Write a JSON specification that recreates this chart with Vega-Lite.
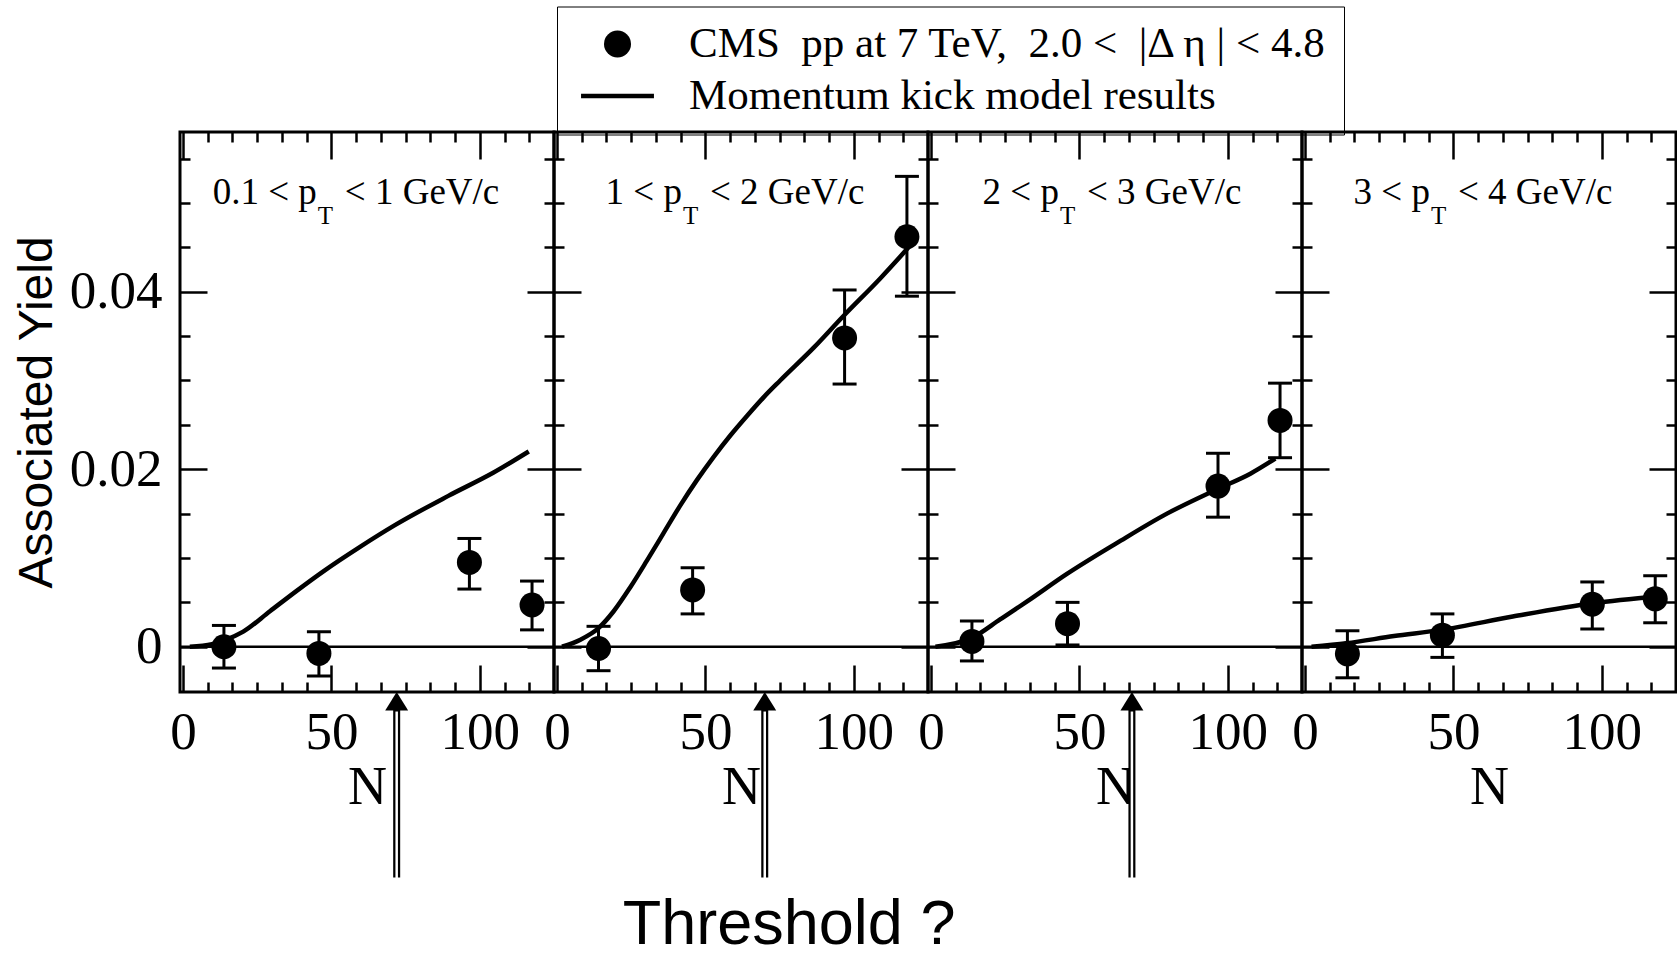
{
  "$schema": "https://vega.github.io/schema/vega-lite/v6.json",
  "background": "white",
  "autosize": {"type": "pad"},
  "padding": {"left": 11, "top": 6, "right": 0, "bottom": 0},
  "datasets": {
    "zero": [{"y": 0}],
    "points": [
      {"panel": 1, "N": 13.8, "y": 0.0, "lo": -0.0024, "hi": 0.0024},
      {"panel": 1, "N": 45.8, "y": -0.00075, "lo": -0.0033, "hi": 0.0017},
      {"panel": 1, "N": 96.5, "y": 0.0095, "lo": 0.0065, "hi": 0.0122},
      {"panel": 1, "N": 117.6, "y": 0.0047, "lo": 0.0019, "hi": 0.0074},
      {"panel": 2, "N": 14.0, "y": -0.0002, "lo": -0.0027, "hi": 0.0023},
      {"panel": 2, "N": 45.7, "y": 0.0064, "lo": 0.0037, "hi": 0.0089},
      {"panel": 2, "N": 96.9, "y": 0.0348, "lo": 0.0296, "hi": 0.0402},
      {"panel": 2, "N": 117.9, "y": 0.0462, "lo": 0.0395, "hi": 0.053},
      {"panel": 3, "N": 13.8, "y": 0.0006, "lo": -0.0016, "hi": 0.0029},
      {"panel": 3, "N": 46.0, "y": 0.0026, "lo": 0.0002, "hi": 0.005},
      {"panel": 3, "N": 96.7, "y": 0.0181, "lo": 0.0146, "hi": 0.0218},
      {"panel": 3, "N": 117.6, "y": 0.0255, "lo": 0.0213, "hi": 0.0297},
      {"panel": 4, "N": 14.3, "y": -0.0008, "lo": -0.0035, "hi": 0.0018},
      {"panel": 4, "N": 46.3, "y": 0.0013, "lo": -0.0012, "hi": 0.0037},
      {"panel": 4, "N": 96.8, "y": 0.0048, "lo": 0.002, "hi": 0.0073},
      {"panel": 4, "N": 118.0, "y": 0.0054, "lo": 0.0027, "hi": 0.008}
    ],
    "model": [
      {"panel": 1, "N": 2.3, "y": 0},
      {"panel": 1, "N": 9.8, "y": 0.0003},
      {"panel": 1, "N": 13.8, "y": 0.0007},
      {"panel": 1, "N": 20.3, "y": 0.0017},
      {"panel": 1, "N": 29.3, "y": 0.004},
      {"panel": 1, "N": 38.3, "y": 0.0063},
      {"panel": 1, "N": 47.3, "y": 0.0085},
      {"panel": 1, "N": 59.4, "y": 0.0112},
      {"panel": 1, "N": 71.4, "y": 0.0137},
      {"panel": 1, "N": 89.4, "y": 0.017},
      {"panel": 1, "N": 104.5, "y": 0.0196},
      {"panel": 1, "N": 116.5, "y": 0.022},
      {"panel": 2, "N": 1.7, "y": 0},
      {"panel": 2, "N": 7.9, "y": 0.0008},
      {"panel": 2, "N": 14.0, "y": 0.0021},
      {"panel": 2, "N": 19.1, "y": 0.004},
      {"panel": 2, "N": 24.7, "y": 0.0067},
      {"panel": 2, "N": 30.3, "y": 0.0097},
      {"panel": 2, "N": 35.9, "y": 0.0128},
      {"panel": 2, "N": 41.5, "y": 0.0159},
      {"panel": 2, "N": 47.2, "y": 0.0188},
      {"panel": 2, "N": 52.8, "y": 0.0214},
      {"panel": 2, "N": 58.4, "y": 0.0238},
      {"panel": 2, "N": 64.0, "y": 0.026},
      {"panel": 2, "N": 69.6, "y": 0.0281},
      {"panel": 2, "N": 75.2, "y": 0.03},
      {"panel": 2, "N": 86.5, "y": 0.0337},
      {"panel": 2, "N": 96.6, "y": 0.0373},
      {"panel": 2, "N": 108.9, "y": 0.0415},
      {"panel": 2, "N": 119.0, "y": 0.0452},
      {"panel": 3, "N": 1.5, "y": 0},
      {"panel": 3, "N": 13.8, "y": 0.001},
      {"panel": 3, "N": 23.4, "y": 0.0031},
      {"panel": 3, "N": 32.4, "y": 0.0051},
      {"panel": 3, "N": 45.8, "y": 0.0082},
      {"panel": 3, "N": 62.7, "y": 0.0117},
      {"panel": 3, "N": 79.5, "y": 0.015},
      {"panel": 3, "N": 96.7, "y": 0.0178},
      {"panel": 3, "N": 107.6, "y": 0.0195},
      {"panel": 3, "N": 116.0, "y": 0.0212},
      {"panel": 4, "N": 2.2, "y": 0},
      {"panel": 4, "N": 14.0, "y": 0.0004},
      {"panel": 4, "N": 30.0, "y": 0.0012},
      {"panel": 4, "N": 46.0, "y": 0.0019},
      {"panel": 4, "N": 70.0, "y": 0.0034},
      {"panel": 4, "N": 97.0, "y": 0.0049},
      {"panel": 4, "N": 119.2, "y": 0.0057}
    ],
    "arrows": [
      {"panel": 1, "N": 72.0},
      {"panel": 2, "N": 70.0},
      {"panel": 3, "N": 67.7}
    ],
    "labels": [
      {"panel": 1, "pre": "0.1 < p", "sub": "T", "post": "< 1 GeV/c"},
      {"panel": 2, "pre": "1 < p", "sub": "T", "post": "< 2 GeV/c"},
      {"panel": 3, "pre": "2 < p", "sub": "T", "post": "< 3 GeV/c"},
      {"panel": 4, "pre": "3 < p", "sub": "T", "post": "< 4 GeV/c"}
    ],
    "notes": [{"text": "Threshold ?"}]
  },
  "hconcat": [
    {
      "width": 374, "height": 560,
      "resolve": {"axis": {"x": "independent", "y": "independent"}},
      "layer": [
        {"data": {"name": "zero"}, "mark": {"type": "rule", "color": "black", "strokeWidth": 2.5},
         "encoding": {"y": {"field": "y", "type": "quantitative", "scale": {"domain": [-0.0051, 0.058], "nice": false, "zero": false}, "axis": null}}},
        {"data": {"name": "model"}, "transform": [{"filter": "datum.panel == 1"}],
         "mark": {"type": "line", "color": "black", "strokeWidth": 4.5, "interpolate": "monotone"},
         "encoding": {
           "x": {"field": "N", "type": "quantitative", "scale": {"domain": [-1, 125], "nice": false, "zero": false},
                 "axis": {"orient": "bottom", "values": [0, 50, 100], "tickSize": -27, "labelPadding": 41, "labelFontSize": 53, "labelFlush": false, "labelOverlap": false, "format": "d", "title": "N", "titleFontSize": 54, "titlePadding": 1}},
           "y": {"field": "y", "type": "quantitative", "scale": {"domain": [-0.0051, 0.058], "nice": false, "zero": false},
                 "axis": {"orient": "left", "values": [0, 0.02, 0.04], "tickSize": -27, "labelPadding": 45, "labelFontSize": 53, "labelFlush": false, "labelOverlap": false, "labelExpr": "datum.value == 0 ? '0' : format(datum.value, '.2f')", "title": "Associated Yield", "titleFont": "Liberation Sans", "titleFontSize": 48, "titlePadding": 8}}
         }},
        {"data": {"name": "points"}, "transform": [{"filter": "datum.panel == 1"}],
         "mark": {"type": "rule", "color": "black", "strokeWidth": 3},
         "encoding": {
           "x": {"field": "N", "type": "quantitative", "axis": {"orient": "bottom", "values": [8.3333, 16.6667, 25, 33.3333, 41.6667, 58.3333, 66.6667, 75, 83.3333, 91.6667, 108.3333, 116.6667], "tickSize": -10, "labels": false, "title": null}},
           "y": {"field": "lo", "type": "quantitative", "axis": {"orient": "left", "values": [0.005, 0.01, 0.015, 0.025, 0.03, 0.035, 0.045, 0.05, 0.055], "tickSize": -10, "labels": false, "title": null}},
           "y2": {"field": "hi"}
         }},
        {"data": {"name": "points"}, "transform": [{"filter": "datum.panel == 1"}],
         "mark": {"type": "tick", "orient": "horizontal", "size": 24, "thickness": 3, "color": "black", "opacity": 1},
         "encoding": {
           "x": {"field": "N", "type": "quantitative", "axis": {"orient": "top", "values": [0, 50, 100], "tickSize": -27, "labels": false, "title": null}},
           "y": {"field": "lo", "type": "quantitative", "axis": {"orient": "right", "values": [0, 0.02, 0.04], "tickSize": -27, "labels": false, "title": null}}
         }},
        {"data": {"name": "points"}, "transform": [{"filter": "datum.panel == 1"}],
         "mark": {"type": "tick", "orient": "horizontal", "size": 24, "thickness": 3, "color": "black", "opacity": 1},
         "encoding": {
           "x": {"field": "N", "type": "quantitative", "axis": {"orient": "top", "values": [8.3333, 16.6667, 25, 33.3333, 41.6667, 58.3333, 66.6667, 75, 83.3333, 91.6667, 108.3333, 116.6667], "tickSize": -10, "labels": false, "title": null}},
           "y": {"field": "hi", "type": "quantitative", "axis": {"orient": "right", "values": [0.005, 0.01, 0.015, 0.025, 0.03, 0.035, 0.045, 0.05, 0.055], "tickSize": -10, "labels": false, "title": null}}
         }},
        {"data": {"name": "points"}, "transform": [{"filter": "datum.panel == 1"}],
         "mark": {"type": "point", "filled": true, "size": 625, "color": "black", "opacity": 1, "strokeWidth": 0},
         "encoding": {
           "x": {"field": "N", "type": "quantitative", "axis": null},
           "y": {"field": "y", "type": "quantitative", "axis": null},
           "shape": {"datum": "CMS\u00a0 pp at 7 TeV,\u00a0 2.0 <\u00a0 |Δ η | < 4.8", "type": "nominal",
             "scale": {"domain": ["CMS\u00a0 pp at 7 TeV,\u00a0 2.0 <\u00a0 |Δ η | < 4.8", "Momentum kick model results"], "range": ["circle", "M-2.7,-0.17H2.7V0.17H-2.7Z"]},
             "legend": {"title": null, "orient": "none", "legendX": 377, "legendY": -125.5, "direction": "vertical",
               "labelFont": "Liberation Serif", "labelFontSize": 43, "labelColor": "black", "labelLimit": 0, "labelOffset": 50,
               "symbolSize": 729, "symbolStrokeWidth": 0, "symbolOffset": 23, "padding": 16, "rowPadding": 8, "strokeColor": "black",
               "encode": {"legend": {"strokeWidth": {"value": 3}},
                          "symbols": {"fill": {"value": "black"}, "stroke": {"value": "black"}, "strokeWidth": {"value": 0}, "opacity": {"value": 1}, "size": {"value": 729}}}}}
         }},
        {"data": {"name": "arrows"}, "transform": [{"filter": "datum.panel == 1"}],
         "mark": {"type": "rule", "color": "black", "strokeWidth": 7, "strokeCap": "butt"},
         "encoding": {"x": {"field": "N", "type": "quantitative", "axis": null}, "y": {"datum": -0.006, "type": "quantitative", "axis": null}, "y2": {"datum": -0.026}}},
        {"data": {"name": "arrows"}, "transform": [{"filter": "datum.panel == 1"}],
         "mark": {"type": "rule", "color": "white", "strokeWidth": 2.5, "strokeCap": "butt"},
         "encoding": {"x": {"field": "N", "type": "quantitative", "axis": null}, "y": {"datum": -0.0073, "type": "quantitative", "axis": null}, "y2": {"datum": -0.0262}}},
        {"data": {"name": "arrows"}, "transform": [{"filter": "datum.panel == 1"}],
         "mark": {"type": "point", "shape": "M0,0L-0.62,1L0.62,1Z", "filled": true, "size": 1369, "color": "black", "opacity": 1, "strokeWidth": 0},
         "encoding": {"x": {"field": "N", "type": "quantitative", "axis": null}, "y": {"datum": -0.0051, "type": "quantitative", "axis": null}}},
        {"data": {"name": "labels"}, "transform": [{"filter": "datum.panel == 1"}],
         "mark": {"type": "text", "align": "right", "baseline": "alphabetic", "font": "Liberation Serif", "fontSize": 37, "color": "black"},
         "encoding": {"x": {"datum": 45.1, "type": "quantitative", "axis": null}, "y": {"datum": 0.04985, "type": "quantitative", "axis": null}, "text": {"field": "pre"}}},
        {"data": {"name": "labels"}, "transform": [{"filter": "datum.panel == 1"}],
         "mark": {"type": "text", "align": "left", "baseline": "alphabetic", "font": "Liberation Serif", "fontSize": 25, "color": "black", "dx": 1, "dy": 20},
         "encoding": {"x": {"datum": 45.1, "type": "quantitative", "axis": null}, "y": {"datum": 0.04985, "type": "quantitative", "axis": null}, "text": {"field": "sub"}}},
        {"data": {"name": "labels"}, "transform": [{"filter": "datum.panel == 1"}],
         "mark": {"type": "text", "align": "left", "baseline": "alphabetic", "font": "Liberation Serif", "fontSize": 37, "color": "black", "dx": 28},
         "encoding": {"x": {"datum": 45.1, "type": "quantitative", "axis": null}, "y": {"datum": 0.04985, "type": "quantitative", "axis": null}, "text": {"field": "post"}}}
      ]
    },
    {
      "width": 374, "height": 560,
      "resolve": {"axis": {"x": "independent", "y": "independent"}},
      "layer": [
        {"data": {"name": "zero"}, "mark": {"type": "rule", "color": "black", "strokeWidth": 2.5},
         "encoding": {"y": {"field": "y", "type": "quantitative", "scale": {"domain": [-0.0051, 0.058], "nice": false, "zero": false}, "axis": null}}},
        {"data": {"name": "model"}, "transform": [{"filter": "datum.panel == 2"}],
         "mark": {"type": "line", "color": "black", "strokeWidth": 4.5, "interpolate": "monotone"},
         "encoding": {
           "x": {"field": "N", "type": "quantitative", "scale": {"domain": [-1, 125], "nice": false, "zero": false},
                 "axis": {"orient": "bottom", "values": [0, 50, 100], "tickSize": -27, "labelPadding": 41, "labelFontSize": 53, "labelFlush": false, "labelOverlap": false, "format": "d", "title": "N", "titleFontSize": 54, "titlePadding": 1}},
           "y": {"field": "y", "type": "quantitative", "scale": {"domain": [-0.0051, 0.058], "nice": false, "zero": false},
                 "axis": {"orient": "left", "values": [0, 0.02, 0.04], "tickSize": -27, "labels": false, "title": null}}
         }},
        {"data": {"name": "points"}, "transform": [{"filter": "datum.panel == 2"}],
         "mark": {"type": "rule", "color": "black", "strokeWidth": 3},
         "encoding": {
           "x": {"field": "N", "type": "quantitative", "axis": {"orient": "bottom", "values": [8.3333, 16.6667, 25, 33.3333, 41.6667, 58.3333, 66.6667, 75, 83.3333, 91.6667, 108.3333, 116.6667], "tickSize": -10, "labels": false, "title": null}},
           "y": {"field": "lo", "type": "quantitative", "axis": {"orient": "left", "values": [0.005, 0.01, 0.015, 0.025, 0.03, 0.035, 0.045, 0.05, 0.055], "tickSize": -10, "labels": false, "title": null}},
           "y2": {"field": "hi"}
         }},
        {"data": {"name": "points"}, "transform": [{"filter": "datum.panel == 2"}],
         "mark": {"type": "tick", "orient": "horizontal", "size": 24, "thickness": 3, "color": "black", "opacity": 1},
         "encoding": {
           "x": {"field": "N", "type": "quantitative", "axis": {"orient": "top", "values": [0, 50, 100], "tickSize": -27, "labels": false, "title": null}},
           "y": {"field": "lo", "type": "quantitative", "axis": {"orient": "right", "values": [0, 0.02, 0.04], "tickSize": -27, "labels": false, "title": null}}
         }},
        {"data": {"name": "points"}, "transform": [{"filter": "datum.panel == 2"}],
         "mark": {"type": "tick", "orient": "horizontal", "size": 24, "thickness": 3, "color": "black", "opacity": 1},
         "encoding": {
           "x": {"field": "N", "type": "quantitative", "axis": {"orient": "top", "values": [8.3333, 16.6667, 25, 33.3333, 41.6667, 58.3333, 66.6667, 75, 83.3333, 91.6667, 108.3333, 116.6667], "tickSize": -10, "labels": false, "title": null}},
           "y": {"field": "hi", "type": "quantitative", "axis": {"orient": "right", "values": [0.005, 0.01, 0.015, 0.025, 0.03, 0.035, 0.045, 0.05, 0.055], "tickSize": -10, "labels": false, "title": null}}
         }},
        {"data": {"name": "points"}, "transform": [{"filter": "datum.panel == 2"}],
         "mark": {"type": "point", "filled": true, "size": 625, "color": "black", "opacity": 1, "strokeWidth": 0},
         "encoding": {"x": {"field": "N", "type": "quantitative", "axis": null}, "y": {"field": "y", "type": "quantitative", "axis": null}}},
        {"data": {"name": "arrows"}, "transform": [{"filter": "datum.panel == 2"}],
         "mark": {"type": "rule", "color": "black", "strokeWidth": 7, "strokeCap": "butt"},
         "encoding": {"x": {"field": "N", "type": "quantitative", "axis": null}, "y": {"datum": -0.006, "type": "quantitative", "axis": null}, "y2": {"datum": -0.026}}},
        {"data": {"name": "arrows"}, "transform": [{"filter": "datum.panel == 2"}],
         "mark": {"type": "rule", "color": "white", "strokeWidth": 2.5, "strokeCap": "butt"},
         "encoding": {"x": {"field": "N", "type": "quantitative", "axis": null}, "y": {"datum": -0.0073, "type": "quantitative", "axis": null}, "y2": {"datum": -0.0262}}},
        {"data": {"name": "arrows"}, "transform": [{"filter": "datum.panel == 2"}],
         "mark": {"type": "point", "shape": "M0,0L-0.62,1L0.62,1Z", "filled": true, "size": 1369, "color": "black", "opacity": 1, "strokeWidth": 0},
         "encoding": {"x": {"field": "N", "type": "quantitative", "axis": null}, "y": {"datum": -0.0051, "type": "quantitative", "axis": null}}},
        {"data": {"name": "labels"}, "transform": [{"filter": "datum.panel == 2"}],
         "mark": {"type": "text", "align": "right", "baseline": "alphabetic", "font": "Liberation Serif", "fontSize": 37, "color": "black"},
         "encoding": {"x": {"datum": 42.1, "type": "quantitative", "axis": null}, "y": {"datum": 0.04985, "type": "quantitative", "axis": null}, "text": {"field": "pre"}}},
        {"data": {"name": "labels"}, "transform": [{"filter": "datum.panel == 2"}],
         "mark": {"type": "text", "align": "left", "baseline": "alphabetic", "font": "Liberation Serif", "fontSize": 25, "color": "black", "dx": 1, "dy": 20},
         "encoding": {"x": {"datum": 42.1, "type": "quantitative", "axis": null}, "y": {"datum": 0.04985, "type": "quantitative", "axis": null}, "text": {"field": "sub"}}},
        {"data": {"name": "labels"}, "transform": [{"filter": "datum.panel == 2"}],
         "mark": {"type": "text", "align": "left", "baseline": "alphabetic", "font": "Liberation Serif", "fontSize": 37, "color": "black", "dx": 28},
         "encoding": {"x": {"datum": 42.1, "type": "quantitative", "axis": null}, "y": {"datum": 0.04985, "type": "quantitative", "axis": null}, "text": {"field": "post"}}},
        {"data": {"name": "notes"},
         "mark": {"type": "text", "align": "center", "baseline": "alphabetic", "font": "Liberation Sans", "fontSize": 63, "color": "black"},
         "encoding": {"x": {"datum": 78.2, "type": "quantitative", "axis": null}, "y": {"datum": -0.03345, "type": "quantitative", "axis": null}, "text": {"field": "text"}}}
      ]
    },
    {
      "width": 374, "height": 560,
      "resolve": {"axis": {"x": "independent", "y": "independent"}},
      "layer": [
        {"data": {"name": "zero"}, "mark": {"type": "rule", "color": "black", "strokeWidth": 2.5},
         "encoding": {"y": {"field": "y", "type": "quantitative", "scale": {"domain": [-0.0051, 0.058], "nice": false, "zero": false}, "axis": null}}},
        {"data": {"name": "model"}, "transform": [{"filter": "datum.panel == 3"}],
         "mark": {"type": "line", "color": "black", "strokeWidth": 4.5, "interpolate": "monotone"},
         "encoding": {
           "x": {"field": "N", "type": "quantitative", "scale": {"domain": [-1, 125], "nice": false, "zero": false},
                 "axis": {"orient": "bottom", "values": [0, 50, 100], "tickSize": -27, "labelPadding": 41, "labelFontSize": 53, "labelFlush": false, "labelOverlap": false, "format": "d", "title": "N", "titleFontSize": 54, "titlePadding": 1}},
           "y": {"field": "y", "type": "quantitative", "scale": {"domain": [-0.0051, 0.058], "nice": false, "zero": false},
                 "axis": {"orient": "left", "values": [0, 0.02, 0.04], "tickSize": -27, "labels": false, "title": null}}
         }},
        {"data": {"name": "points"}, "transform": [{"filter": "datum.panel == 3"}],
         "mark": {"type": "rule", "color": "black", "strokeWidth": 3},
         "encoding": {
           "x": {"field": "N", "type": "quantitative", "axis": {"orient": "bottom", "values": [8.3333, 16.6667, 25, 33.3333, 41.6667, 58.3333, 66.6667, 75, 83.3333, 91.6667, 108.3333, 116.6667], "tickSize": -10, "labels": false, "title": null}},
           "y": {"field": "lo", "type": "quantitative", "axis": {"orient": "left", "values": [0.005, 0.01, 0.015, 0.025, 0.03, 0.035, 0.045, 0.05, 0.055], "tickSize": -10, "labels": false, "title": null}},
           "y2": {"field": "hi"}
         }},
        {"data": {"name": "points"}, "transform": [{"filter": "datum.panel == 3"}],
         "mark": {"type": "tick", "orient": "horizontal", "size": 24, "thickness": 3, "color": "black", "opacity": 1},
         "encoding": {
           "x": {"field": "N", "type": "quantitative", "axis": {"orient": "top", "values": [0, 50, 100], "tickSize": -27, "labels": false, "title": null}},
           "y": {"field": "lo", "type": "quantitative", "axis": {"orient": "right", "values": [0, 0.02, 0.04], "tickSize": -27, "labels": false, "title": null}}
         }},
        {"data": {"name": "points"}, "transform": [{"filter": "datum.panel == 3"}],
         "mark": {"type": "tick", "orient": "horizontal", "size": 24, "thickness": 3, "color": "black", "opacity": 1},
         "encoding": {
           "x": {"field": "N", "type": "quantitative", "axis": {"orient": "top", "values": [8.3333, 16.6667, 25, 33.3333, 41.6667, 58.3333, 66.6667, 75, 83.3333, 91.6667, 108.3333, 116.6667], "tickSize": -10, "labels": false, "title": null}},
           "y": {"field": "hi", "type": "quantitative", "axis": {"orient": "right", "values": [0.005, 0.01, 0.015, 0.025, 0.03, 0.035, 0.045, 0.05, 0.055], "tickSize": -10, "labels": false, "title": null}}
         }},
        {"data": {"name": "points"}, "transform": [{"filter": "datum.panel == 3"}],
         "mark": {"type": "point", "filled": true, "size": 625, "color": "black", "opacity": 1, "strokeWidth": 0},
         "encoding": {"x": {"field": "N", "type": "quantitative", "axis": null}, "y": {"field": "y", "type": "quantitative", "axis": null}}},
        {"data": {"name": "arrows"}, "transform": [{"filter": "datum.panel == 3"}],
         "mark": {"type": "rule", "color": "black", "strokeWidth": 7, "strokeCap": "butt"},
         "encoding": {"x": {"field": "N", "type": "quantitative", "axis": null}, "y": {"datum": -0.006, "type": "quantitative", "axis": null}, "y2": {"datum": -0.026}}},
        {"data": {"name": "arrows"}, "transform": [{"filter": "datum.panel == 3"}],
         "mark": {"type": "rule", "color": "white", "strokeWidth": 2.5, "strokeCap": "butt"},
         "encoding": {"x": {"field": "N", "type": "quantitative", "axis": null}, "y": {"datum": -0.0073, "type": "quantitative", "axis": null}, "y2": {"datum": -0.0262}}},
        {"data": {"name": "arrows"}, "transform": [{"filter": "datum.panel == 3"}],
         "mark": {"type": "point", "shape": "M0,0L-0.62,1L0.62,1Z", "filled": true, "size": 1369, "color": "black", "opacity": 1, "strokeWidth": 0},
         "encoding": {"x": {"field": "N", "type": "quantitative", "axis": null}, "y": {"datum": -0.0051, "type": "quantitative", "axis": null}}},
        {"data": {"name": "labels"}, "transform": [{"filter": "datum.panel == 3"}],
         "mark": {"type": "text", "align": "right", "baseline": "alphabetic", "font": "Liberation Serif", "fontSize": 37, "color": "black"},
         "encoding": {"x": {"datum": 43.1, "type": "quantitative", "axis": null}, "y": {"datum": 0.04985, "type": "quantitative", "axis": null}, "text": {"field": "pre"}}},
        {"data": {"name": "labels"}, "transform": [{"filter": "datum.panel == 3"}],
         "mark": {"type": "text", "align": "left", "baseline": "alphabetic", "font": "Liberation Serif", "fontSize": 25, "color": "black", "dx": 1, "dy": 20},
         "encoding": {"x": {"datum": 43.1, "type": "quantitative", "axis": null}, "y": {"datum": 0.04985, "type": "quantitative", "axis": null}, "text": {"field": "sub"}}},
        {"data": {"name": "labels"}, "transform": [{"filter": "datum.panel == 3"}],
         "mark": {"type": "text", "align": "left", "baseline": "alphabetic", "font": "Liberation Serif", "fontSize": 37, "color": "black", "dx": 28},
         "encoding": {"x": {"datum": 43.1, "type": "quantitative", "axis": null}, "y": {"datum": 0.04985, "type": "quantitative", "axis": null}, "text": {"field": "post"}}}
      ]
    },
    {
      "width": 374, "height": 560,
      "resolve": {"axis": {"x": "independent", "y": "independent"}},
      "layer": [
        {"data": {"name": "zero"}, "mark": {"type": "rule", "color": "black", "strokeWidth": 2.5},
         "encoding": {"y": {"field": "y", "type": "quantitative", "scale": {"domain": [-0.0051, 0.058], "nice": false, "zero": false}, "axis": null}}},
        {"data": {"name": "model"}, "transform": [{"filter": "datum.panel == 4"}],
         "mark": {"type": "line", "color": "black", "strokeWidth": 4.5, "interpolate": "monotone"},
         "encoding": {
           "x": {"field": "N", "type": "quantitative", "scale": {"domain": [-1, 125], "nice": false, "zero": false},
                 "axis": {"orient": "bottom", "values": [0, 50, 100], "tickSize": -27, "labelPadding": 41, "labelFontSize": 53, "labelFlush": false, "labelOverlap": false, "format": "d", "title": "N", "titleFontSize": 54, "titlePadding": 1}},
           "y": {"field": "y", "type": "quantitative", "scale": {"domain": [-0.0051, 0.058], "nice": false, "zero": false},
                 "axis": {"orient": "left", "values": [0, 0.02, 0.04], "tickSize": -27, "labels": false, "title": null}}
         }},
        {"data": {"name": "points"}, "transform": [{"filter": "datum.panel == 4"}],
         "mark": {"type": "rule", "color": "black", "strokeWidth": 3},
         "encoding": {
           "x": {"field": "N", "type": "quantitative", "axis": {"orient": "bottom", "values": [8.3333, 16.6667, 25, 33.3333, 41.6667, 58.3333, 66.6667, 75, 83.3333, 91.6667, 108.3333, 116.6667], "tickSize": -10, "labels": false, "title": null}},
           "y": {"field": "lo", "type": "quantitative", "axis": {"orient": "left", "values": [0.005, 0.01, 0.015, 0.025, 0.03, 0.035, 0.045, 0.05, 0.055], "tickSize": -10, "labels": false, "title": null}},
           "y2": {"field": "hi"}
         }},
        {"data": {"name": "points"}, "transform": [{"filter": "datum.panel == 4"}],
         "mark": {"type": "tick", "orient": "horizontal", "size": 24, "thickness": 3, "color": "black", "opacity": 1},
         "encoding": {
           "x": {"field": "N", "type": "quantitative", "axis": {"orient": "top", "values": [0, 50, 100], "tickSize": -27, "labels": false, "title": null}},
           "y": {"field": "lo", "type": "quantitative", "axis": {"orient": "right", "values": [0, 0.02, 0.04], "tickSize": -27, "labels": false, "title": null}}
         }},
        {"data": {"name": "points"}, "transform": [{"filter": "datum.panel == 4"}],
         "mark": {"type": "tick", "orient": "horizontal", "size": 24, "thickness": 3, "color": "black", "opacity": 1},
         "encoding": {
           "x": {"field": "N", "type": "quantitative", "axis": {"orient": "top", "values": [8.3333, 16.6667, 25, 33.3333, 41.6667, 58.3333, 66.6667, 75, 83.3333, 91.6667, 108.3333, 116.6667], "tickSize": -10, "labels": false, "title": null}},
           "y": {"field": "hi", "type": "quantitative", "axis": {"orient": "right", "values": [0.005, 0.01, 0.015, 0.025, 0.03, 0.035, 0.045, 0.05, 0.055], "tickSize": -10, "labels": false, "title": null}}
         }},
        {"data": {"name": "points"}, "transform": [{"filter": "datum.panel == 4"}],
         "mark": {"type": "point", "filled": true, "size": 625, "color": "black", "opacity": 1, "strokeWidth": 0},
         "encoding": {"x": {"field": "N", "type": "quantitative", "axis": null}, "y": {"field": "y", "type": "quantitative", "axis": null}}},
        {"data": {"name": "labels"}, "transform": [{"filter": "datum.panel == 4"}],
         "mark": {"type": "text", "align": "right", "baseline": "alphabetic", "font": "Liberation Serif", "fontSize": 37, "color": "black"},
         "encoding": {"x": {"datum": 42.1, "type": "quantitative", "axis": null}, "y": {"datum": 0.04985, "type": "quantitative", "axis": null}, "text": {"field": "pre"}}},
        {"data": {"name": "labels"}, "transform": [{"filter": "datum.panel == 4"}],
         "mark": {"type": "text", "align": "left", "baseline": "alphabetic", "font": "Liberation Serif", "fontSize": 25, "color": "black", "dx": 1, "dy": 20},
         "encoding": {"x": {"datum": 42.1, "type": "quantitative", "axis": null}, "y": {"datum": 0.04985, "type": "quantitative", "axis": null}, "text": {"field": "sub"}}},
        {"data": {"name": "labels"}, "transform": [{"filter": "datum.panel == 4"}],
         "mark": {"type": "text", "align": "left", "baseline": "alphabetic", "font": "Liberation Serif", "fontSize": 37, "color": "black", "dx": 28},
         "encoding": {"x": {"datum": 42.1, "type": "quantitative", "axis": null}, "y": {"datum": 0.04985, "type": "quantitative", "axis": null}, "text": {"field": "post"}}}
      ]
    }
  ],
  "spacing": 0,
  "bounds": "flush",
  "config": {
    "view": {"stroke": "black", "strokeWidth": 3},
    "axis": {"domain": false, "grid": false, "tickColor": "black", "tickWidth": 2.5, "labelColor": "black", "titleColor": "black", "labelFont": "Liberation Serif", "titleFont": "Liberation Serif", "titleFontWeight": "normal", "labelFontWeight": "normal"}
  }
}
